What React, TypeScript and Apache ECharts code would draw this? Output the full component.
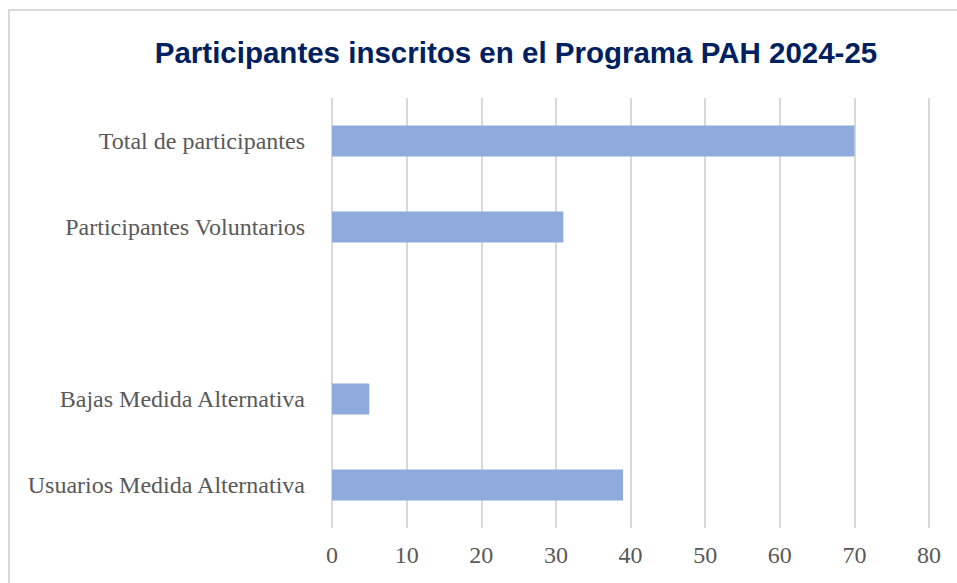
import React, { useEffect, useRef } from "react";
import * as echarts from "echarts";

const categories = [
  "Usuarios Medida Alternativa",
  "Bajas Medida Alternativa",
  "",
  "Participantes Voluntarios",
  "Total de participantes",
];
const values: (number | null)[] = [39, 5, null, 31, 70];
const xTicks = { min: 0, max: 80, interval: 10 };
const titleText = "Participantes inscritos en el Programa PAH 2024-25";

export default function App() {
  const ref = useRef<HTMLDivElement>(null);
  useEffect(() => {
    if (!ref.current) return;
    const chart = echarts.init(ref.current, null, { renderer: "svg" });
    chart.setOption({
      animation: false,
      backgroundColor: "#ffffff",
      title: {
        text: titleText,
        left: 511,
        textAlign: "center",
        top: 32,
        textStyle: {
          fontFamily: "'Liberation Sans', Arial, sans-serif",
          fontWeight: "bold",
          fontSize: 29.5,
          color: "#002060",
        },
      },
      graphic: [
        {
          type: "rect",
          shape: { x: 9, y: 10, width: 1000, height: 1000 },
          style: { fill: "none", stroke: "#d9d9d9", lineWidth: 2 },
          silent: true,
        },
      ],
      grid: { left: 332, right: 28, top: 98, bottom: 55, containLabel: false },
      xAxis: {
        type: "value",
        min: xTicks.min,
        max: xTicks.max,
        interval: xTicks.interval,
        axisLine: { show: false },
        axisTick: { show: false },
        splitLine: { show: true, lineStyle: { color: "#d9d9d9", width: 2 } },
        axisLabel: {
          color: "#595959",
          fontFamily: "'Liberation Serif', 'Times New Roman', serif",
          fontSize: 24,
          margin: 15,
        },
      },
      yAxis: {
        type: "category",
        data: categories,
        axisLine: { show: false },
        axisTick: { show: false },
        splitLine: { show: false },
        axisLabel: {
          color: "#595959",
          fontFamily: "'Liberation Serif', 'Times New Roman', serif",
          fontSize: 24,
          margin: 27,
        },
      },
      series: [
        {
          type: "bar",
          data: values,
          barWidth: 31,
          itemStyle: { color: "#8faadc" },
        },
      ],
    });
    return () => chart.dispose();
  }, []);
  return (
    <div
      ref={ref}
      style={{ position: "fixed", left: 0, top: 0, width: 957, height: 583 }}
    />
  );
}
